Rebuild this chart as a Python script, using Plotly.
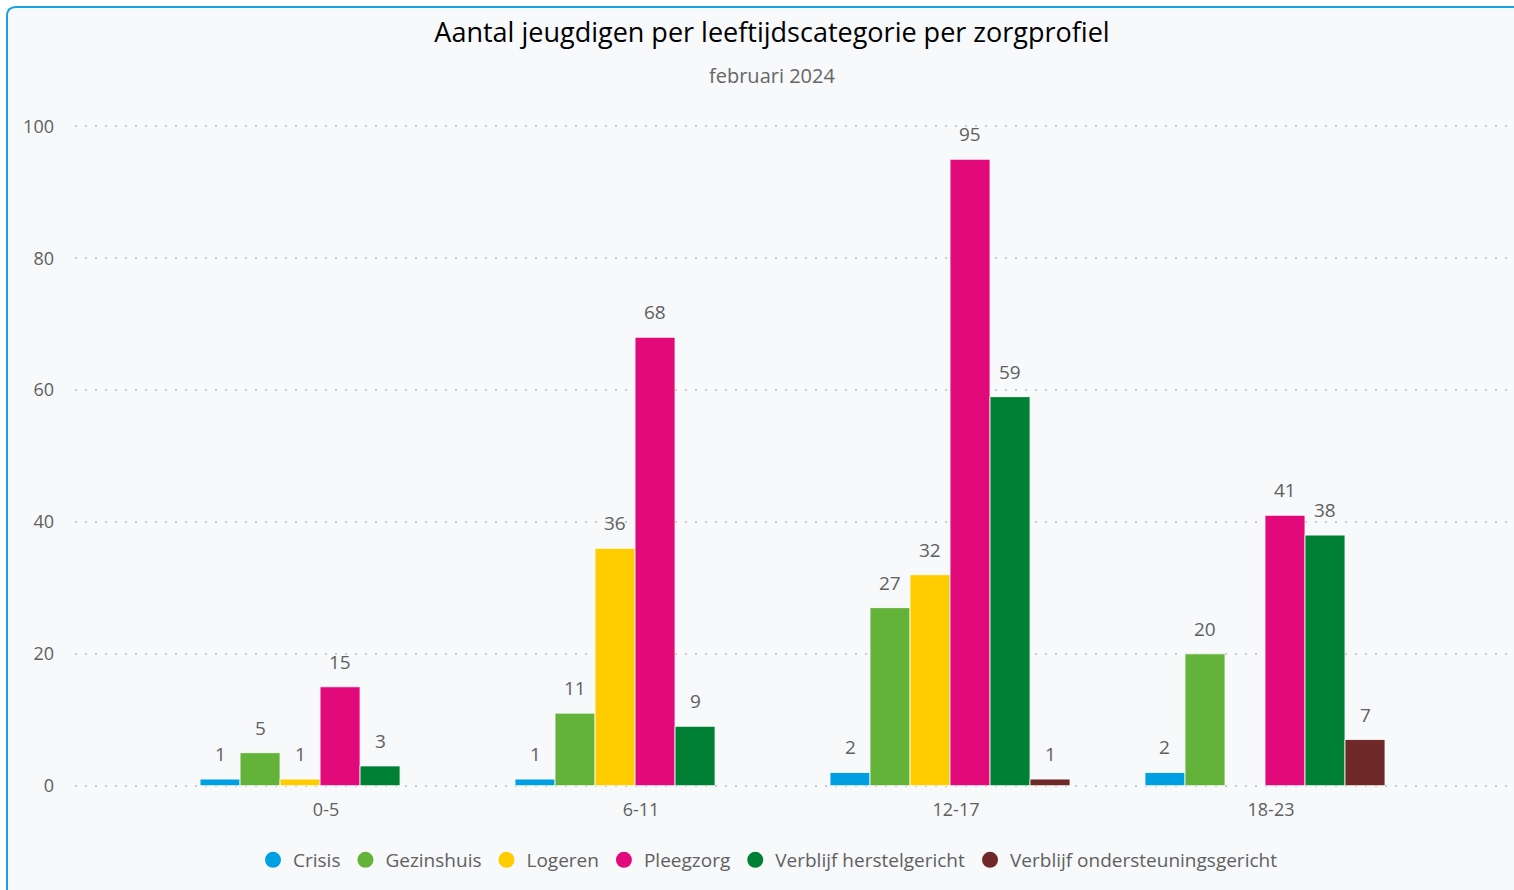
import plotly.graph_objects as go

categories = ["0-5", "6-11", "12-17", "18-23"]
series_names = ["Crisis", "Gezinshuis", "Logeren", "Pleegzorg",
                "Verblijf herstelgericht", "Verblijf ondersteuningsgericht"]
crisis = [1, 1, 2, 2]
gezinshuis = [5, 11, 27, 20]
logeren = [1, 36, 32, None]
pleegzorg = [15, 68, 95, 41]
verblijf_herstel = [3, 9, 59, 38]
verblijf_onderst = [None, None, 1, 7]
series_values = [crisis, gezinshuis, logeren, pleegzorg, verblijf_herstel, verblijf_onderst]
colors = ["#009FE3", "#63B23A", "#FFCC00", "#E20A7A", "#008034", "#702929"]
y_ticks = [0, 20, 40, 60, 80, 100]

W, H = 1514, 890
L, R, T, B = 75, 3, 125, 103
PW, PH = W - L - R, H - T - B
FONT = "Open Sans"
GRAY = "#606060"
BARGAP = 0.238
YR = [-0.2, 100.2]


def px(x):
    return (x - L) / PW


def py(y):
    return (H - B - y) / PH


fig = go.Figure()
n = len(series_names)
for k, (name, vals, col) in enumerate(zip(series_names, series_values, colors)):
    fig.add_trace(go.Bar(
        x=categories, y=vals, name=name, marker_color=col,
        marker_line=dict(color="rgba(255,255,255,0.8)", width=1),
        offsetgroup=str(k), showlegend=False, hoverinfo="y+name",
    ))
    fig.add_trace(go.Scatter(
        x=[None], y=[None], mode="markers", name=name,
        marker=dict(color=col, size=19, symbol="circle"), showlegend=True,
    ))

slot_w = (1 - BARGAP) / n
annotations = []
for k, vals in enumerate(series_values):
    for i, v in enumerate(vals):
        if v is None:
            continue
        annotations.append(dict(
            x=i + (k - (n - 1) / 2) * slot_w, y=v, xref="x", yref="y",
            text=str(v), showarrow=False, yanchor="bottom", yshift=10,
            font=dict(family=FONT, size=19, color=GRAY),
        ))

annotations.append(dict(
    x=px(772), y=py(75), xref="paper", yref="paper",
    text="februari 2024", showarrow=False, xanchor="center", yanchor="middle",
    font=dict(family=FONT, size=20, color="#666666"),
))

border = (f"M {px(7)},{py(900)} L {px(7)},{py(16)} Q {px(7)},{py(7)} {px(16)},{py(7)} "
          f"L {px(1540)},{py(7)} L {px(1540)},{py(900)} Z")

fig.update_layout(
    width=W, height=H,
    margin=dict(l=L, r=R, t=T, b=B, autoexpand=False),
    paper_bgcolor="white", plot_bgcolor="rgba(0,0,0,0)",
    barmode="group", bargap=BARGAP, bargroupgap=0,
    title=dict(text="Aantal jeugdigen per leeftijdscategorie per zorgprofiel",
               x=772 / W, xref="container", xanchor="center",
               y=1 - 33 / H, yref="container", yanchor="middle",
               font=dict(family=FONT, size=27, color="#000000")),
    font=dict(family=FONT, size=18, color=GRAY),
    legend=dict(orientation="h", x=768 / W, xanchor="center", xref="container",
                y=1 - 860 / H, yanchor="middle", yref="container",
                font=dict(family=FONT, size=19, color=GRAY),
                itemwidth=30, tracegroupgap=0, bgcolor="rgba(0,0,0,0)"),
    xaxis=dict(type="category", range=[-0.778, 3.781], showgrid=False,
               showline=False, zeroline=False, ticks="", ticklabelstandoff=10,
               ticklabelshift=6,
               tickfont=dict(family=FONT, size=18, color=GRAY)),
    yaxis=dict(range=YR, tickvals=y_ticks, showgrid=True,
               gridcolor="#c8c8c8", gridwidth=2, griddash="2px,8px",
               zeroline=False, showline=False, ticks="", ticklabelstandoff=20,
               tickfont=dict(family=FONT, size=18, color=GRAY)),
    shapes=[dict(type="path", path=border, xref="paper", yref="paper",
                 fillcolor="#F7F9FB", line=dict(color="#1BA1E2", width=2),
                 layer="below")],
    annotations=annotations,
)

fig.write_html("out.html", config={"displayModeBar": False},
               post_script="document.body.style.margin='0';document.body.style.overflow='hidden';")
